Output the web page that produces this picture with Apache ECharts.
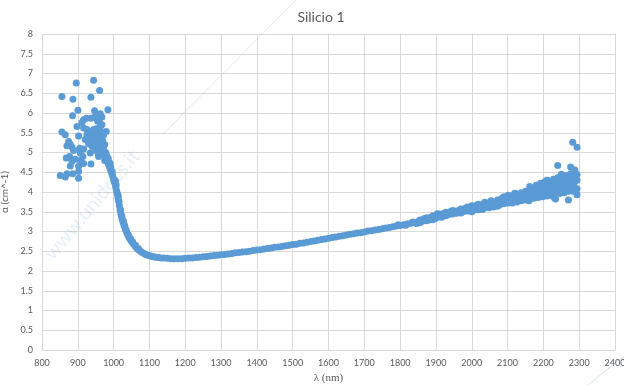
<!DOCTYPE html>
<html>
<head>
<meta charset="utf-8">
<script src="https://cdn.jsdelivr.net/npm/echarts@6/dist/echarts.min.js"></script>
<style>
  html, body { margin: 0; padding: 0; background: #fff; }
  #chart { width: 624px; height: 385px; }
</style>
</head>
<body>
<div id="chart"></div>
<script>
// scattered measurements below ~990 nm
const noisyStart = [
  [855.7, 6.42], [895.7, 6.76], [944, 6.83], [960.8, 6.57], [886.4, 6.35], [936.6, 6.4],
  [900.3, 6.07], [984, 6.08], [946.9, 6.06], [885.5, 5.93], [916.2, 5.83], [911.5, 5.76],
  [923.6, 5.87], [936.6, 5.87], [962.7, 5.98], [967.3, 5.9], [955.2, 5.8], [897.6, 5.66],
  [916.2, 5.62], [925.5, 5.58], [944, 5.58], [967.3, 5.7], [855.7, 5.52], [865, 5.45],
  [979.4, 5.53], [972, 5.45], [925.5, 5.45], [934.8, 5.33], [948.7, 5.41], [958, 5.32],
  [967.3, 5.41], [902.2, 5.42], [920.8, 5.33], [930.1, 5.22], [874.3, 5.28], [879, 5.2],
  [869.7, 5.17], [883.6, 5.14], [953.4, 5.2], [962.7, 5.26], [905, 5.11], [916.2, 5.09],
  [972, 5.14], [951.5, 5.05], [888.2, 5.05], [906.9, 4.99], [934.8, 4.99], [956.2, 4.99],
  [914.3, 4.9], [867.8, 4.86], [877.1, 4.9], [892.9, 4.83], [906.9, 4.8], [883.6, 4.77],
  [916.2, 4.72], [936.6, 4.71], [879, 4.66], [902.2, 4.65], [851, 4.42], [865, 4.38],
  [869.7, 4.46], [885.5, 4.46], [902.2, 4.35], [902.2, 4.52], [938, 5.5], [942, 5.37],
  [950, 5.5], [952, 5.6], [957, 5.45], [945, 5.25], [940, 5.15], [961, 5.4], [963, 5.7],
  [965, 5.05], [955, 5.85], [960, 5.78], [947, 5.9], [975, 5.2], [978, 5.0], [981, 4.92],
  [969, 5.3], [964, 5.55], [966, 5.25], [960, 5.1], [958, 4.9], [975, 4.8], [985, 4.85],
  [988, 4.75], [990, 4.72]
];

// the smooth absorption edge and the slow rise after it
const curve = [
  [970, 5.1], [972, 5.0], [974, 4.98], [976, 4.93], [978, 4.88], [980, 4.84], [982, 4.78],
  [984, 4.74], [986, 4.7], [988, 4.65], [990, 4.6], [992, 4.55], [994, 4.5], [996, 4.44],
  [998, 4.38], [1000, 4.31], [1002, 4.26], [1004, 4.2], [1006, 4.12], [1008, 4.04],
  [1010, 3.96], [1012, 3.86], [1014, 3.77], [1016, 3.66], [1018, 3.55], [1020, 3.45],
  [1022, 3.38], [1024, 3.31], [1026, 3.25], [1028, 3.19], [1030, 3.13], [1033, 3.06],
  [1036, 2.99], [1039, 2.93], [1042, 2.87], [1045, 2.82], [1048, 2.78], [1051, 2.74],
  [1055, 2.69], [1059, 2.64], [1063, 2.6], [1067, 2.56], [1071, 2.53], [1075, 2.5],
  [1080, 2.47], [1085, 2.44], [1090, 2.42], [1095, 2.4], [1100, 2.39], [1106, 2.37],
  [1112, 2.36], [1118, 2.35], [1125, 2.34], [1132, 2.33], [1140, 2.33], [1150, 2.32],
  [1160, 2.31], [1170, 2.31], [1180, 2.31], [1190, 2.31],
  [1003, 4.3], [1007, 4.18], [1011, 3.95], [1015, 3.76], [1019, 3.56], [1023, 3.4],
  [1027, 3.27], [1031, 3.15], [996, 4.52], [992, 4.62], [1005, 4.28], [1013, 3.9],
  [1035, 3.04], [1041, 2.92], [1047, 2.82], [1053, 2.74], [1061, 2.65], [1069, 2.57],
  [1200, 2.32], [1210, 2.33], [1220, 2.33], [1230, 2.34], [1240, 2.35], [1250, 2.36],
  [1260, 2.37], [1270, 2.38], [1280, 2.39], [1290, 2.4], [1300, 2.41], [1310, 2.42],
  [1320, 2.43], [1330, 2.44], [1340, 2.46], [1350, 2.47], [1360, 2.48], [1370, 2.49],
  [1380, 2.5], [1390, 2.52], [1400, 2.53], [1410, 2.54], [1420, 2.56], [1430, 2.57],
  [1440, 2.58], [1450, 2.6], [1460, 2.61], [1470, 2.62], [1480, 2.64], [1490, 2.65],
  [1500, 2.67], [1510, 2.68], [1520, 2.7], [1530, 2.71], [1540, 2.73], [1550, 2.75],
  [1560, 2.76], [1570, 2.78], [1580, 2.8], [1590, 2.81], [1600, 2.83], [1610, 2.85],
  [1620, 2.86], [1630, 2.88], [1640, 2.89], [1650, 2.91], [1660, 2.93], [1670, 2.94],
  [1680, 2.96], [1690, 2.97], [1700, 2.99], [1710, 3.01], [1720, 3.02], [1730, 3.04],
  [1740, 3.05], [1750, 3.07], [1760, 3.09], [1770, 3.1], [1780, 3.12], [1790, 3.14],
  [1795, 3.17], [1800, 3.15], [1810, 3.17], [1815, 3.16], [1820, 3.19], [1830, 3.21],
  [1835, 3.24], [1840, 3.23], [1845, 3.2], [1850, 3.25]
];

// the scattered long-wavelength tail
const noisyEnd = [
  [1855, 3.24], [1855, 3.29], [1855, 3.22], [1862, 3.3], [1862, 3.26], [1868, 3.28], [1868, 3.33],
  [1874, 3.3], [1874, 3.27], [1874, 3.35], [1880, 3.32], [1880, 3.29], [1886, 3.36], [1886, 3.31],
  [1892, 3.34], [1892, 3.4], [1892, 3.3], [1898, 3.38], [1898, 3.33], [1904, 3.42], [1904, 3.36],
  [1904, 3.45], [1910, 3.39], [1910, 3.44], [1916, 3.41], [1916, 3.36], [1922, 3.46], [1922, 3.42],
  [1928, 3.44], [1928, 3.4], [1928, 3.49], [1934, 3.47], [1934, 3.43], [1940, 3.45], [1940, 3.5],
  [1946, 3.49], [1946, 3.44], [1946, 3.53], [1952, 3.47], [1952, 3.52], [1958, 3.5], [1958, 3.46],
  [1964, 3.54], [1964, 3.49], [1970, 3.51], [1970, 3.57], [1970, 3.47], [1976, 3.55], [1976, 3.5],
  [1982, 3.53], [1982, 3.59], [1988, 3.57], [1988, 3.52], [1988, 3.62], [1994, 3.55], [1994, 3.6],
  [2000, 3.58], [2000, 3.5], [2000, 3.65], [2006, 3.6], [2006, 3.54], [2012, 3.57], [2012, 3.66],
  [2018, 3.62], [2018, 3.55], [2018, 3.69], [2024, 3.6], [2024, 3.68], [2030, 3.64], [2030, 3.56],
  [2036, 3.67], [2036, 3.6], [2036, 3.74], [2042, 3.65], [2042, 3.72], [2048, 3.68], [2048, 3.6],
  [2054, 3.71], [2054, 3.64], [2054, 3.78], [2060, 3.7], [2060, 3.62], [2066, 3.74], [2066, 3.67],
  [2072, 3.72], [2072, 3.8], [2072, 3.64], [2078, 3.76], [2078, 3.68], [2084, 3.74], [2084, 3.84],
  [2090, 3.79], [2090, 3.7], [2090, 3.88], [2096, 3.77], [2096, 3.85], [2102, 3.8], [2102, 3.72],
  [2102, 3.92], [2108, 3.83], [2108, 3.74], [2114, 3.81], [2114, 3.9], [2114, 3.72], [2120, 3.87],
  [2120, 3.77], [2126, 3.84], [2126, 3.95], [2126, 3.75], [2132, 3.9], [2132, 3.79], [2138, 3.87],
  [2138, 3.98], [2138, 3.78], [2144, 3.92], [2144, 3.81], [2150, 3.9], [2150, 4.02], [2150, 3.8],
  [2156, 3.95], [2156, 3.84], [2162, 3.92], [2162, 4.05], [2162, 3.82], [2162, 4.14], [2168, 3.98],
  [2168, 3.86], [2174, 3.95], [2174, 4.08], [2174, 3.84], [2180, 4.0], [2180, 3.88], [2180, 4.17],
  [2186, 3.98], [2186, 4.12], [2186, 3.86], [2192, 4.04], [2192, 3.9], [2192, 4.22], [2198, 4.01],
  [2198, 4.14], [2198, 3.88], [2204, 4.07], [2204, 3.93], [2204, 4.26], [2210, 4.04], [2210, 4.18],
  [2210, 3.9], [2216, 4.1], [2216, 3.95], [2216, 4.28], [2222, 4.07], [2222, 4.22], [2222, 3.92],
  [2228, 4.13], [2228, 3.98], [2228, 4.32], [2234, 4.1], [2234, 4.25], [2234, 3.82], [2240, 4.15],
  [2240, 4.0], [2240, 4.67], [2240, 4.36], [2246, 4.12], [2246, 4.28], [2246, 3.96], [2252, 4.18],
  [2252, 4.03], [2252, 4.38], [2258, 4.15], [2258, 4.31], [2258, 3.98], [2264, 4.21], [2264, 4.06],
  [2264, 4.42], [2270, 4.18], [2270, 4.34], [2270, 3.8], [2270, 4.02], [2276, 4.23], [2276, 4.1],
  [2276, 4.46], [2276, 4.63], [2282, 4.22], [2282, 4.38], [2282, 4.02], [2282, 5.26], [2288, 4.26],
  [2288, 4.1], [2288, 4.48], [2288, 4.56], [2294, 4.3], [2294, 5.13], [2294, 4.08], [2294, 3.93],
  [2294, 4.44], [2210, 4.3], [2230, 3.86], [2250, 4.45], [2160, 3.78], [2120, 3.97]
];

const xMin = 800, xMax = 2400, xStep = 100;
const yMin = 0, yMax = 8, yStep = 0.5;

const textColor = "#595959";
const gridColor = "#d9d9d9";
const dotColor = "#5b9bd5";

const myChart = echarts.init(document.getElementById("chart"));

const dotSeries = (name, data) => ({
  name: name,
  type: "scatter",
  data: data,
  symbol: "circle",
  symbolSize: 7,
  itemStyle: { color: dotColor, opacity: 1 },
  silent: true,
});

myChart.setOption({
  animation: false,
  title: {
    text: "Silicio 1",
    left: 316,
    textAlign: "center",
    top: 5,
    textStyle: {
      color: textColor,
      fontSize: 14,
      fontWeight: "normal",
      fontFamily: "Lato",
    },
  },
  grid: {
    left: 42,
    right: 9,
    top: 34,
    bottom: 35,
    outerBoundsMode: "none",
  },
  xAxis: {
    type: "value",
    min: xMin,
    max: xMax,
    interval: xStep,
    name: "λ (nm)",
    nameLocation: "middle",
    nameGap: 20,
    nameTextStyle: {
      color: textColor,
      fontSize: 11,
      fontFamily: "Liberation Serif",
    },
    axisLine: { show: true, lineStyle: { color: gridColor } },
    axisTick: { show: false },
    axisLabel: {
      color: textColor,
      fontSize: 9,
      fontFamily: "Lato",
      margin: 9,
      showMaxLabel: true,
      showMinLabel: true,
      formatter: (v) => String(v),
    },
    splitLine: { show: true, lineStyle: { color: gridColor } },
  },
  yAxis: {
    type: "value",
    min: yMin,
    max: yMax,
    interval: yStep,
    name: "α (cm^-1)",
    nameLocation: "middle",
    nameGap: 28,
    nameTextStyle: {
      color: textColor,
      fontSize: 10,
      fontFamily: "Lato",
    },
    axisLine: { show: false },
    axisTick: { show: false },
    axisLabel: {
      color: textColor,
      fontSize: 9,
      fontFamily: "Lato",
      margin: 9,
    },
    splitLine: { show: true, lineStyle: { color: gridColor } },
  },
  graphic: [
    {
      type: "line",
      z: 100,
      shape: { x1: 296, y1: 0, x2: 163, y2: 134 },
      style: { stroke: "rgba(91,155,213,0.22)", lineWidth: 1 },
    },
    {
      type: "line",
      z: 100,
      shape: { x1: 624, y1: 356, x2: 588, y2: 385 },
      style: { stroke: "rgba(91,155,213,0.3)", lineWidth: 1 },
    },
    {
      type: "text",
      z: 100,
      x: 92,
      y: 205,
      rotation: (50 * Math.PI) / 180,
      style: {
        text: "www.unidocs.it",
        font: "20px Lato",
        fill: "rgba(91,155,213,0.16)",
        align: "center",
        verticalAlign: "middle",
      },
    },
  ],
  series: [
    dotSeries("noisyStart", noisyStart),
    dotSeries("curve", curve),
    dotSeries("noisyEnd", noisyEnd),
  ],
});
</script>
</body>
</html>
